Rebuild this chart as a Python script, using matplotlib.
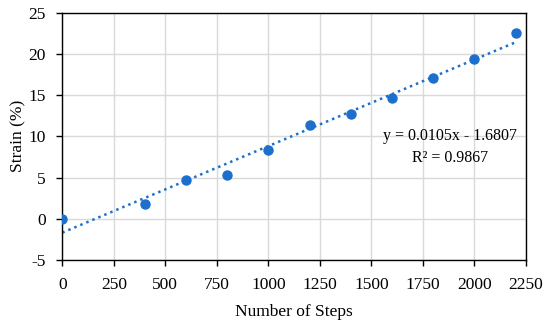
import matplotlib
matplotlib.use('Agg')
import numpy as np
import matplotlib.pyplot as plt

steps = [0, 400, 600, 800, 1000, 1200, 1400, 1600, 1800, 2000, 2200]
strain = [0.0, 1.8, 4.7, 5.3, 8.4, 11.35, 12.75, 14.7, 17.1, 19.35, 22.55]
slope = 0.0105
intercept = -1.6807
r2 = 0.9867
xticks = [0, 250, 500, 750, 1000, 1250, 1500, 1750, 2000, 2250]
yticks = [-5, 0, 5, 10, 15, 20, 25]

plt.rcParams['font.family'] = ['Liberation Serif', 'DejaVu Serif']
plt.rcParams['font.size'] = 12.5
plt.rcParams['axes.unicode_minus'] = False

blue = '#1c6fcc'

fig = plt.figure(figsize=(5.5, 3.24), dpi=100)
ax = fig.add_axes([62.3 / 550, 1 - 260 / 324, (526 - 62.3) / 550, (260 - 12.7) / 324])

# trendline over the data range
xfit = np.array([steps[0], steps[-1]])
ax.plot(xfit, slope * xfit + intercept, linestyle=(0, (1, 1.6)), color=blue, lw=1.8, zorder=2)
ax.plot(steps, strain, 'o', color=blue, markersize=6.5, zorder=3)

ax.set_xlim(0, 2250)
ax.set_ylim(-5, 25)
ax.set_xticks(xticks)
ax.set_yticks(yticks)
ax.grid(True, color='#d9d9d9', lw=1)
ax.set_axisbelow(True)
ax.tick_params(direction='out', length=4, width=1, color='black')
ax.tick_params(axis='x', pad=8)
ax.tick_params(axis='y', pad=8)
for s in ax.spines.values():
    s.set_color('black')
    s.set_linewidth(1)

ax.set_xlabel('Number of Steps', labelpad=8)
ax.set_ylabel('Strain (%)', labelpad=1)

ax.text(1882, 8.7, 'y = %.4fx - %.4f\nR² = %.4f' % (slope, -intercept, r2),
        ha='center', va='center', linespacing=1.45, fontsize=11.5)

fig.savefig('out.png', dpi=100)
